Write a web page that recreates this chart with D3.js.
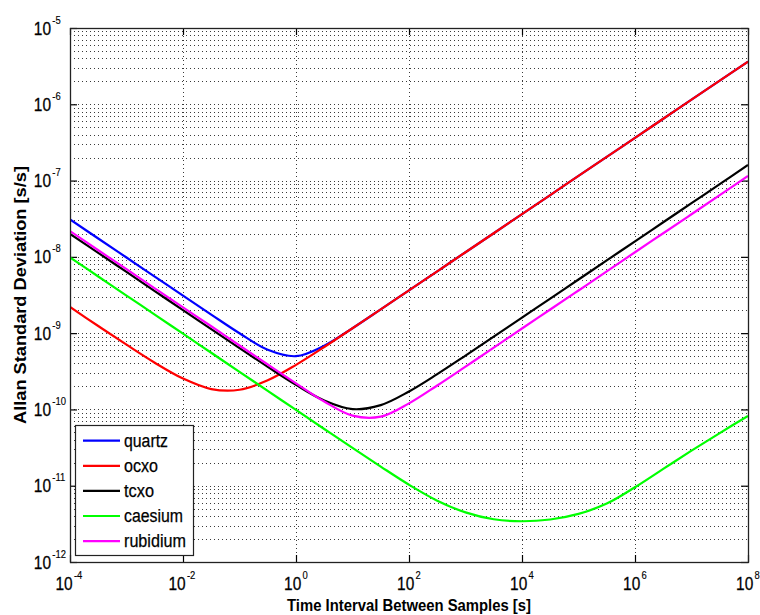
<!DOCTYPE html>
<html>
<head>
<meta charset="utf-8">
<script src="https://cdn.jsdelivr.net/npm/d3@7/dist/d3.min.js"></script>
<style>
  body { margin: 0; background: #fff; }
  svg { display: block; }
  text { font-family: "Liberation Sans", Arial, Helvetica, sans-serif; fill: #000; }
</style>
</head>
<body>
<svg id="chart" width="760" height="615"></svg>
<script>
// Averaging time (s), half-decade steps
const tau = [1e-4, 3.16e-4, 1e-3, 3.16e-3, 1e-2, 3.16e-2, 1e-1, 3.16e-1, 1, 3.16, 10, 31.6,
             100, 316, 1e3, 3.16e3, 1e4, 3.16e4, 1e5, 3.16e5, 1e6, 3.16e6, 1e7, 3.16e7, 1e8];

// Allan standard deviation of each oscillator at those averaging times
const quartz   = [3.10e-8, 1.74e-8, 9.80e-9, 5.51e-9, 3.10e-9, 1.75e-9, 9.97e-10, 6.05e-10, 4.99e-10, 6.84e-10, 1.16e-9, 2.05e-9,
                  3.64e-9, 6.46e-9, 1.15e-8, 2.04e-8, 3.63e-8, 6.46e-8, 1.15e-7, 2.04e-7, 3.63e-7, 6.46e-7, 1.15e-6, 2.04e-6, 3.63e-6];
const ocxo     = [2.20e-9, 1.24e-9, 7.06e-10, 4.10e-10, 2.54e-10, 1.85e-10, 1.81e-10, 2.41e-10, 3.84e-10, 6.58e-10, 1.16e-9, 2.05e-9,
                  3.64e-9, 6.46e-9, 1.15e-8, 2.04e-8, 3.63e-8, 6.46e-8, 1.15e-7, 2.04e-7, 3.63e-7, 6.46e-7, 1.15e-6, 2.04e-6, 3.63e-6];
const tcxo     = [2.00e-8, 1.13e-8, 6.34e-9, 3.56e-9, 2.00e-9, 1.13e-9, 6.37e-10, 3.62e-10, 2.10e-10, 1.31e-10, 1.01e-10, 1.14e-10,
                  1.72e-10, 2.90e-10, 5.08e-10, 9.00e-10, 1.60e-9, 2.84e-9, 5.05e-9, 8.97e-9, 1.60e-8, 2.84e-8, 5.05e-8, 8.97e-8, 1.60e-7];
const caesium  = [9.84e-9, 5.53e-9, 3.11e-9, 1.75e-9, 9.84e-10, 5.53e-10, 3.11e-10, 1.75e-10, 9.84e-11, 5.54e-11, 3.13e-11, 1.78e-11,
                  1.03e-11, 6.37e-12, 4.47e-12, 3.63e-12, 3.42e-12, 3.61e-12, 4.27e-12, 5.83e-12, 9.55e-12, 1.66e-11, 2.88e-11, 4.90e-11, 8.22e-11];
const rubidium = [2.18e-8, 1.22e-8, 6.89e-9, 3.87e-9, 2.18e-9, 1.23e-9, 6.89e-10, 3.88e-10, 2.20e-10, 1.27e-10, 8.28e-11, 8.03e-11,
                  1.20e-10, 2.06e-10, 3.64e-10, 6.45e-10, 1.15e-9, 2.04e-9, 3.62e-9, 6.44e-9, 1.15e-8, 2.04e-8, 3.62e-8, 6.44e-8, 1.15e-7];

const seriesNames  = ["quartz", "ocxo", "tcxo", "caesium", "rubidium"];
const seriesColors = ["#0000ff", "#ff0000", "#000000", "#00ff00", "#ff00ff"];
const seriesValues = [quartz, ocxo, tcxo, caesium, rubidium];

// Tick exponents (powers of ten)
const xTickExps = [-4, -2, 0, 2, 4, 6, 8];
const yTickExps = [-12, -11, -10, -9, -8, -7, -6, -5];

const xTitle = "Time Interval Between Samples [s]";
const yTitle = "Allan Standard Deviation [s/s]";

const plot = { left: 70, right: 748, top: 28, bottom: 562 };

const svg = d3.select("#chart");

const x = d3.scaleLog().domain([1e-4, 1e8]).range([plot.left, plot.right]);
const y = d3.scaleLog().domain([1e-12, 1e-5]).range([plot.bottom, plot.top]);

svg.append("rect").attr("width", 760).attr("height", 615).attr("fill", "#fff");

svg.append("defs").append("clipPath").attr("id", "plotClip")
  .append("rect")
  .attr("x", plot.left).attr("y", plot.top)
  .attr("width", plot.right - plot.left).attr("height", plot.bottom - plot.top);

// Grid: horizontal dotted lines at every 1..9 x 10^n, vertical at labelled decades
const gridG = svg.append("g").attr("shape-rendering", "crispEdges");
const hGrid = [];
for (let e = -12; e < -5; e++) {
  for (let k = 1; k <= 9; k++) hGrid.push(k * Math.pow(10, e));
}
hGrid.push(1e-5);
gridG.selectAll("line.h").data(hGrid).join("line")
  .attr("class", "h")
  .attr("x1", plot.left).attr("x2", plot.right)
  .attr("y1", d => Math.round(y(d)) + 0.5).attr("y2", d => Math.round(y(d)) + 0.5)
  .attr("stroke", "#3a3a3a").attr("stroke-width", 1).attr("stroke-dasharray", "1,3");
gridG.selectAll("line.v").data(xTickExps.map(e => Math.pow(10, e))).join("line")
  .attr("class", "v")
  .attr("x1", d => Math.round(x(d)) + 0.5).attr("x2", d => Math.round(x(d)) + 0.5)
  .attr("y1", plot.top).attr("y2", plot.bottom)
  .attr("stroke", "#3a3a3a").attr("stroke-width", 1).attr("stroke-dasharray", "1,3");

// Tick marks on all four sides
const xTickVals = xTickExps.map(e => Math.pow(10, e));
const yTickVals = yTickExps.map(e => Math.pow(10, e));
const tickLen = 7;
svg.append("g").attr("transform", `translate(0,${plot.bottom})`)
  .call(d3.axisBottom(x).tickValues(xTickVals).tickSize(-tickLen).tickFormat(""))
  .call(g => g.select(".domain").remove());
svg.append("g").attr("transform", `translate(0,${plot.top})`)
  .call(d3.axisTop(x).tickValues(xTickVals).tickSize(-tickLen).tickFormat(""))
  .call(g => g.select(".domain").remove());
svg.append("g").attr("transform", `translate(${plot.left},0)`)
  .call(d3.axisLeft(y).tickValues(yTickVals).tickSize(-tickLen).tickFormat(""))
  .call(g => g.select(".domain").remove());
svg.append("g").attr("transform", `translate(${plot.right},0)`)
  .call(d3.axisRight(y).tickValues(yTickVals).tickSize(-tickLen).tickFormat(""))
  .call(g => g.select(".domain").remove());
svg.selectAll(".tick line").attr("stroke", "#000").attr("stroke-width", 1.2);

// Curves
const line = d3.line()
  .x(d => x(d[0]))
  .y(d => y(d[1]))
  .curve(d3.curveCatmullRom.alpha(0.5));

const curveG = svg.append("g").attr("clip-path", "url(#plotClip)");
seriesValues.forEach((vals, i) => {
  curveG.append("path")
    .datum(tau.map((t, j) => [t, vals[j]]))
    .attr("d", line)
    .attr("fill", "none")
    .attr("stroke", seriesColors[i])
    .attr("stroke-width", 2.2)
    .attr("stroke-linejoin", "round");
});

// Axes frame
svg.append("rect")
  .attr("x", plot.left + 0.5).attr("y", plot.top + 0.5)
  .attr("width", plot.right - plot.left).attr("height", plot.bottom - plot.top)
  .attr("fill", "none").attr("stroke", "#222").attr("stroke-width", 1.3);

// Power-of-ten label: "10" followed by a raised exponent, in one narrowed text element
const labelSqueeze = 0.86;
function powerLabel(g, px, py, exp) {
  const t = g.append("text")
    .attr("transform", `translate(${px},${py}) scale(${labelSqueeze},1)`)
    .attr("text-anchor", "start")
    .attr("stroke", "#000").attr("stroke-width", 0.25);
  t.append("tspan").attr("font-size", 18).text("10");
  t.append("tspan").attr("font-size", 11).attr("dx", 1.5).attr("dy", -11)
    .attr("stroke-width", 0.15)
    .text(String(exp));
  return t;
}
const baseW = 20 * labelSqueeze;          // rendered width of "10"
const expCharW = 6.1 * labelSqueeze;      // rendered width of one exponent character

// Y tick labels: "10" right edge at x = 51
const yLab = svg.append("g");
yTickExps.forEach(e => {
  powerLabel(yLab, 51 - baseW, y(Math.pow(10, e)) + 6.5, e);
});

// X tick labels, centred on their ticks
const xLab = svg.append("g");
xTickExps.forEach(e => {
  const px = x(Math.pow(10, e));
  const expW = String(e).length * expCharW;
  powerLabel(xLab, px - (baseW + 1.5 + expW) / 2, 590, e);
});

// Axis titles
svg.append("text")
  .attr("x", (plot.left + plot.right) / 2).attr("y", 611)
  .attr("text-anchor", "middle").attr("font-size", 16).attr("font-weight", "bold")
  .attr("textLength", 244).attr("lengthAdjust", "spacingAndGlyphs")
  .text(xTitle);
svg.append("text")
  .attr("transform", `translate(26,${(plot.top + plot.bottom) / 2}) rotate(-90)`)
  .attr("text-anchor", "middle").attr("font-size", 16).attr("font-weight", "bold")
  .attr("textLength", 258).attr("lengthAdjust", "spacingAndGlyphs")
  .text(yTitle);

// Legend
const legend = { x: 75, y: 425, w: 118, h: 130, rowH: 25.1, first: 15.7 };
const legendWidths = [44, 34, 30, 59, 62];
const lg = svg.append("g");
lg.append("rect")
  .attr("x", legend.x + 0.5).attr("y", legend.y + 0.5)
  .attr("width", legend.w).attr("height", legend.h)
  .attr("fill", "#fff").attr("stroke", "#222").attr("stroke-width", 1.2);
seriesNames.forEach((name, i) => {
  const ry = legend.y + legend.first + i * legend.rowH;
  lg.append("line")
    .attr("x1", 83).attr("x2", 120).attr("y1", ry).attr("y2", ry)
    .attr("stroke", seriesColors[i]).attr("stroke-width", 2.2);
  lg.append("text")
    .attr("x", 124).attr("y", ry + 6)
    .attr("font-size", 18)
    .attr("stroke", "#000").attr("stroke-width", 0.25)
    .attr("textLength", legendWidths[i]).attr("lengthAdjust", "spacingAndGlyphs")
    .text(name);
});
</script>
</body>
</html>
